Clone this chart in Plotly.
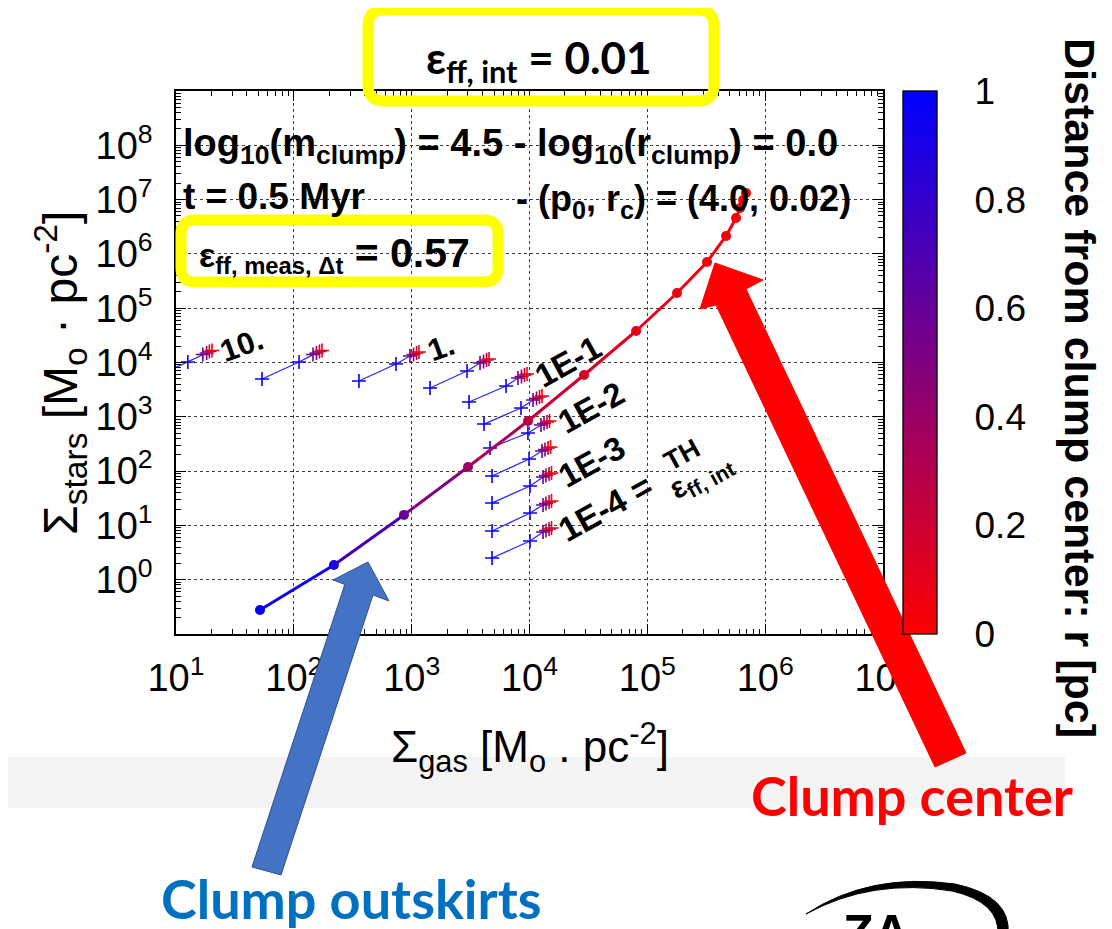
import plotly.graph_objects as go

# ---------------- data ----------------
main_gas = [51.6, 219, 861, 3006, 9710, 29000, 80200, 178600, 321000, 466000, 566000, 612000, 649000, 688000]
main_stars = [0.277, 1.87, 15.6, 119, 837, 5890, 38000, 190500, 709000, 2.14e6, 4.58e6, 7.0e6, 9.8e6, 1.32e7]
main_r = [1.0, 0.88, 0.6, 0.38, 0.25, 0.15, 0.1, 0.07, 0.05, 0.035, 0.025, 0.015, 0.008, 0.0]

row_r = [1.0, 0.92, 0.6, 0.45, 0.25, 0.05]
rows_gas = [
    [6.14, 12.6, 16.9, 18.2, 19.2, 20.2],
    [53.7, 110.7, 145.5, 155.7, 165.1, 173.4],
    [357, 736, 968, 1037, 1100, 1154],
    [1432, 2951, 3804, 4074, 4318, 4532],
    [3069, 6324, 7986, 8551, 9070, 9525],
    [4110, 8470, 10720, 11470, 12160, 12770],
    [4624, 9700, 12530, 13280, 14090, 14790],
    [4810, 9910, 12770, 13540, 14360, 15080],
    [4810, 10100, 13030, 13800, 14650, 15380],
    [4810, 10100, 13030, 13800, 14650, 15380],
    [4810, 10100, 13030, 13800, 14650, 15380],
]
rows_stars = [
    [4966, 10200, 14000, 14960, 15960, 16630],
    [4966, 10200, 14000, 14960, 15960, 16630],
    [4560, 9380, 13180, 14030, 14960, 15600],
    [3390, 6970, 9790, 10430, 11120, 11600],
    [1874, 3690, 5184, 5524, 5888, 6140],
    [736, 1452, 2038, 2172, 2316, 2416],
    [266, 503, 706, 753, 802, 837],
    [81.3, 167, 234, 250, 266, 278],
    [25.9, 53.2, 77.9, 82.9, 88.4, 92.3],
    [7.89, 16.9, 23.8, 25.3, 27.0, 28.1],
    [2.51, 5.16, 7.55, 8.05, 8.59, 8.95],
]

x_tickvals = [1e1, 1e2, 1e3, 1e4, 1e5, 1e6, 1e7]
x_ticktext = ["10<sup>1</sup>", "10<sup>2</sup>", "10<sup>3</sup>", "10<sup>4</sup>",
              "10<sup>5</sup>", "10<sup>6</sup>", "10<sup>7</sup>"]
y_tickvals = [1e-1, 1e0, 1e1, 1e2, 1e3, 1e4, 1e5, 1e6, 1e7, 1e8, 1e9]
y_ticktext = ["", "10<sup>0</sup>", "10<sup>1</sup>", "10<sup>2</sup>", "10<sup>3</sup>", "10<sup>4</sup>",
              "10<sup>5</sup>", "10<sup>6</sup>", "10<sup>7</sup>", "10<sup>8</sup>", ""]
cb_tickvals = [0, 0.2, 0.4, 0.6, 0.8, 1]
cb_ticktext = ["0", "0.2", "0.4", "0.6", "0.8", "1"]

# ---------------- layout helpers ----------------
# the page body adds an 8px offset, so the figure is laid out 8px up/left
FW, FH = 1112, 929
OFF = 8
PL, PT, W, H = 176, 91, 707, 543        # plot area in page pixels
L, T = PL - OFF, PT - OFF               # plot area in figure pixels
def U(px):
    return (px - PL) / W
def V(py):
    return (PT + H - py) / H

CSCALE = [[0, "rgb(255,0,0)"], [1, "rgb(0,0,255)"]]
def col(r):
    return "rgb(%d,0,%d)" % (round(255 * (1 - r)), round(255 * r))

GP = "Liberation Sans"
SL = "Lato"

fig = go.Figure()

# short constant-efficiency lines
for g, s in zip(rows_gas, rows_stars):
    fig.add_trace(go.Scatter(
        x=g, y=s, mode="lines+markers",
        line=dict(color="rgb(40,40,255)", width=1.3),
        marker=dict(symbol="cross-thin", size=10,
                    line=dict(width=1.6, color=[col(r) for r in row_r])),
        showlegend=False, hoverinfo="skip"))

# main curve segments with colour by distance
for i in range(len(main_gas) - 1):
    fig.add_trace(go.Scatter(
        x=main_gas[i:i + 2], y=main_stars[i:i + 2], mode="lines",
        line=dict(color=col((main_r[i] + main_r[i + 1]) / 2), width=3),
        showlegend=False, hoverinfo="skip"))

fig.add_trace(go.Scatter(
    x=main_gas, y=main_stars, mode="markers",
    marker=dict(size=10, color=main_r, colorscale=CSCALE, cmin=0, cmax=1,
                showscale=True,
                colorbar=dict(x=U(903), xanchor="left", y=0, yanchor="bottom",
                              len=1, lenmode="fraction", thickness=34,
                              thicknessmode="pixels", xpad=0, ypad=0,
                              outlinewidth=1.3, outlinecolor="black",
                              tickmode="array", tickvals=cb_tickvals, ticktext=cb_ticktext,
                              ticks="outside", ticklen=30, tickcolor="rgba(0,0,0,0)",
                              tickfont=dict(family=GP, size=37, color="black"))),
    showlegend=False, hoverinfo="skip"))

axis_common = dict(type="log", showline=True, linewidth=1.5, linecolor="black",
                   mirror="allticks", ticks="inside", ticklen=10, tickwidth=1.2,
                   tickcolor="black", showgrid=True, gridcolor="rgb(60,60,60)",
                   griddash="dot", gridwidth=1, zeroline=False,
                   tickfont=dict(family=GP, size=38, color="black"),
                   minor=dict(ticks="inside", ticklen=5, tickwidth=1, tickcolor="black",
                              dtick="D1", showgrid=False))

fig.update_xaxes(range=[1, 7], tickmode="array", tickvals=x_tickvals, ticktext=x_ticktext,
                 ticklabelstandoff=10, **axis_common)
fig.update_yaxes(range=[-1, 9], tickmode="array", tickvals=y_tickvals, ticktext=y_ticktext,
                 ticklabelstandoff=14, **axis_common)

# ---------------- shapes ----------------
shapes = []

def poly(pts):
    s = "M %f,%f " % (U(pts[0][0]), V(pts[0][1]))
    for p in pts[1:]:
        s += "L %f,%f " % (U(p[0]), V(p[1]))
    return s + "Z"

def rrect(x0, y0, x1, y1, r):
    def P(x, y):
        return "%f,%f" % (U(x), V(y))
    return ("M " + P(x0 + r, y0) + " L " + P(x1 - r, y0) + " Q " + P(x1, y0) + " " + P(x1, y0 + r) +
            " L " + P(x1, y1 - r) + " Q " + P(x1, y1) + " " + P(x1 - r, y1) +
            " L " + P(x0 + r, y1) + " Q " + P(x0, y1) + " " + P(x0, y1 - r) +
            " L " + P(x0, y0 + r) + " Q " + P(x0, y0) + " " + P(x0 + r, y0) + " Z")

# gray band (slide background strip)
shapes.append(dict(type="rect", xref="paper", yref="paper", x0=U(0), x1=U(1065),
                   y0=V(808), y1=V(757), fillcolor="rgb(244,244,244)", line=dict(width=0),
                   layer="below"))
# yellow boxes
shapes.append(dict(type="path", xref="paper", yref="paper", path=rrect(368, 10, 714, 101, 16),
                   line=dict(color="#ffff00", width=11)))
shapes.append(dict(type="path", xref="paper", yref="paper", path=rrect(181, 220, 498, 282, 14),
                   line=dict(color="#ffff00", width=11)))
# colorbar inside ticks
for v in [0.2, 0.4, 0.6, 0.8]:
    shapes.append(dict(type="line", xref="paper", yref="paper", x0=U(903), x1=U(910), y0=v, y1=v,
                       line=dict(color="black", width=1.2)))
    shapes.append(dict(type="line", xref="paper", yref="paper", x0=U(930), x1=U(937), y0=v, y1=v,
                       line=dict(color="black", width=1.2)))
# blue arrow
shapes.append(dict(type="path", xref="paper", yref="paper",
                   path=poly([(252, 867), (344.8, 584.4), (333, 580), (368, 562), (389, 601), (373, 595), (281, 875)]),
                   fillcolor="#4472c4", line=dict(color="#2f528f", width=1)))
# red arrow
shapes.append(dict(type="path", xref="paper", yref="paper",
                   path=poly([(935, 767), (716, 305), (700, 309), (715, 263), (763, 280), (746, 289), (966, 753)]),
                   fillcolor="#ff0000", line=dict(color="#ff0000", width=1)))
# logo swoosh
def P2(x, y):
    return "%f,%f" % (U(x), V(y))
logo = ("M " + P2(806, 914) + " Q " + P2(870, 872) + " " + P2(955, 884) +
        " Q " + P2(1012, 896) + " " + P2(1008, 935) + " L " + P2(998, 935) +
        " Q " + P2(1000, 902) + " " + P2(952, 891) + " Q " + P2(872, 878) + " " + P2(806, 914) + " Z")
shapes.append(dict(type="path", xref="paper", yref="paper", path=logo, fillcolor="black",
                   line=dict(color="black", width=1)))

# ---------------- annotations ----------------
ann = []
def A(text, px, py, size, family=GP, color="black", bold=True, angle=0, xanchor="center", yanchor="middle"):
    ann.append(dict(text=text, x=U(px), y=V(py), xref="paper", yref="paper", showarrow=False,
                    xanchor=xanchor, yanchor=yanchor, textangle=angle,
                    font=dict(family=family, size=size, color=color, weight="bold" if bold else "normal")))

A("ε<sub>ff, int</sub> = 0.01", 539, 60, 44, family=SL)
A("log<sub>10</sub>(m<sub>clump</sub>) = 4.5 - log<sub>10</sub>(r<sub>clump</sub>) = 0.0", 181, 146, 38, xanchor="left")
A("t = 0.5 Myr", 181, 197, 37, xanchor="left")
A("- (p<sub>0</sub>, r<sub>c</sub>) = (4.0, 0.02)", 514, 201, 36, xanchor="left")
A("<span style='font-size:34px'>ε<sub>ff, meas, Δt</sub></span> = 0.57", 334, 254, 41)

A("10.", 241, 345, 31, angle=-20)
A("1.", 441, 347, 31, angle=-20)
A("1E-1", 568, 361, 33, angle=-29)
A("1E-2", 591, 407, 33, angle=-29)
A("1E-3", 592, 462, 33, angle=-29)
A("1E-4 =", 605, 508, 34, angle=-29)
A("TH", 682, 455, 27, angle=-29)
A("ε<sub>ff, int</sub>", 701, 476, 30, angle=-29)

A("Σ<sub>stars</sub> [M<sub>o</sub> · pc<sup>-2</sup>]", 60, 373, 48, bold=False, angle=-90)
A("Σ<sub>gas</sub> [M<sub>o</sub> . pc<sup>-2</sup>]", 530, 747, 44, bold=False)
A("Distance from clump center: r [pc]", 1080, 388, 43, angle=90)

A("Clump center", 912, 795, 54, family=SL, color="#ff0000")
A("Clump outskirts", 351, 898, 54, family=SL, color="#0070c0")
A("ZA", 876, 903, 50, yanchor="top")

fig.update_layout(width=FW, height=FH,
                  margin=dict(l=L, r=FW - L - W, t=T, b=FH - T - H, autoexpand=False),
                  paper_bgcolor="white", plot_bgcolor="white", showlegend=False,
                  shapes=shapes, annotations=ann)

fig.write_html("out.html")
